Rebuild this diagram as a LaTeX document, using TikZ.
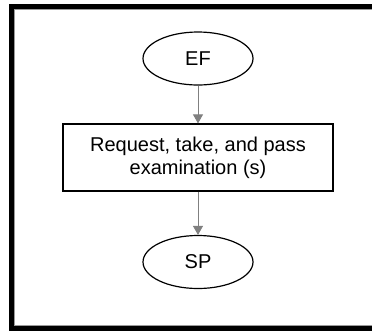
\documentclass[tikz,border=0pt]{standalone}
\usepackage{fontspec}
\setmainfont{Liberation Sans}
\usetikzlibrary{shapes.geometric,arrows.meta}
\definecolor{linkgray}{HTML}{808080}
\definecolor{framegray}{HTML}{9A9A9A}
\tikzset{
  terminal/.style={ellipse, draw=black, line width=1.2pt, minimum width=110pt, minimum height=53pt, inner sep=0pt, font=\fontsize{20}{23}\selectfont},
  process/.style={rectangle, draw=black, line width=1.2pt, minimum width=270pt, minimum height=67pt, align=center, inner sep=0pt, font=\fontsize{20}{23}\selectfont},
  link/.style={draw=linkgray, line width=0.9pt, -{Triangle[length=9pt,width=10pt]}}
}
\begin{document}
\begin{tikzpicture}[x=1pt,y=-1pt]
  \useasboundingbox (0,0) rectangle (372,330);
  % outer frame, open on the right
  \begin{scope}
    \clip (0,0) rectangle (372,330);
    \fill[black] (9,4) rectangle (380,334);
    \fill[white] (14,9.5) rectangle (380,325.5);
    \draw[framegray, line width=0.8pt] (380,9.5) -- (14,9.5) -- (14,325.5) -- (380,325.5);
  \end{scope}
  \node[terminal] (ef) at (198,58.5) {EF};
  \node[process] (exam) at (198,157.5) {Request, take, and pass\\examination (s)};
  \node[terminal] (sp) at (198,262) {SP};
  \draw[link] (ef) -- (exam);
  \draw[link] (exam) -- (sp);
\end{tikzpicture}
\end{document}
